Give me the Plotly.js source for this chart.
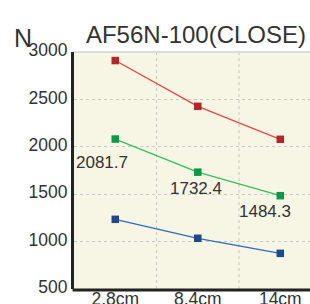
<!DOCTYPE html>
<html><head><meta charset="utf-8">
<script src="https://cdn.plot.ly/plotly-3.0.1.min.js"></script>
<style>html,body{margin:0;padding:0;background:#fff;}#chart{width:310px;height:304px;}</style>
</head><body><div id="chart"></div>
<script>
const categories = ['2.8cm', '8.4cm', '14cm'];
const redValues = [2910, 2427, 2079];
const greenValues = [2081.7, 1732.4, 1484.3];
const blueValues = [1235, 1035, 876];
const greenLabels = ['2081.7', '1732.4', '1484.3'];
const yTicks = [500, 1000, 1500, 2000, 2500, 3000];

function series(vals, lineColor, markerColor) {
  return {x: categories, y: vals, type: 'scatter', mode: 'lines+markers',
    line: {color: lineColor, width: 1.3},
    marker: {symbol: 'square', size: 7.5, color: markerColor},
    hoverinfo: 'skip', showlegend: false, cliponaxis: false};
}
const data = [
  series(redValues, '#ee4444', '#b0282c'),
  series(greenValues, '#33c060', '#0c9848'),
  series(blueValues, '#2e6cc0', '#1e4a8a')
];
const labelShifts = [[-13, 23], [-2, 16], [-15, 16]];
const annotations = greenLabels.map((t, i) => ({
  x: categories[i], y: greenValues[i], xref: 'x', yref: 'y', text: t, showarrow: false,
  xshift: labelShifts[i][0], yshift: -labelShifts[i][1],
  font: {family: 'Liberation Sans, Arial, sans-serif', size: 17, color: '#333'}
}));
annotations.push({xref: 'paper', yref: 'paper', x: (12 - 74) / 236, y: (289 - 38) / 237,
  xanchor: 'left', yanchor: 'middle', text: 'N', showarrow: false,
  font: {family: 'Liberation Sans, Arial, sans-serif', size: 25, color: '#333'}});
const shapes = [0.5, 1.5].map(v => ({type: 'line', xref: 'x', yref: 'paper', x0: v, x1: v, y0: 0, y1: 1,
  line: {color: '#c8c8c8', width: 1, dash: 'dot'}, layer: 'below'}));
shapes.push({type: 'line', xref: 'paper', yref: 'paper', x0: 0, x1: 1, y0: 1, y1: 1,
  line: {color: '#dcdcdc', width: 2}, layer: 'below'});
shapes.push({type: 'line', xref: 'paper', yref: 'paper', x0: -0.006, x1: 1, y0: -0.004, y1: -0.004,
  line: {color: '#222', width: 3}, layer: 'above'});
const layout = {
  width: 310, height: 304,
  margin: {l: 74, r: 0, t: 52, b: 15, pad: 0},
  paper_bgcolor: '#ffffff', plot_bgcolor: '#f7f5e4',
  font: {family: 'Liberation Sans, Arial, sans-serif', color: '#333'},
  title: {text: 'AF56N-100(CLOSE)', x: 196 / 310, xanchor: 'center', xref: 'container',
    y: 1 - 38 / 304, yanchor: 'bottom', yref: 'container', pad: {b: -5},
    font: {family: 'Liberation Sans, Arial, sans-serif', size: 24, color: '#333'}},
  xaxis: {type: 'category', range: [-0.5, 2.36], showgrid: false, zeroline: false,
    showline: false, ticks: '', fixedrange: true, anchor: 'free', position: 3 / 237,
    tickfont: {size: 17.5, color: '#333'}},
  yaxis: {range: [500, 3000], tickvals: yTicks, showgrid: true, gridcolor: '#c8c8c8', griddash: 'dot',
    gridwidth: 1, zeroline: false, showline: true, linecolor: '#222', linewidth: 3, ticks: '',
    ticklabelstandoff: 0, ticklabelshift: -2, tickfont: {size: 17.5, color: '#333'}, fixedrange: true},
  annotations: annotations, shapes: shapes
};
Plotly.newPlot('chart', data, layout, {displayModeBar: false, staticPlot: true});
</script></body></html>
